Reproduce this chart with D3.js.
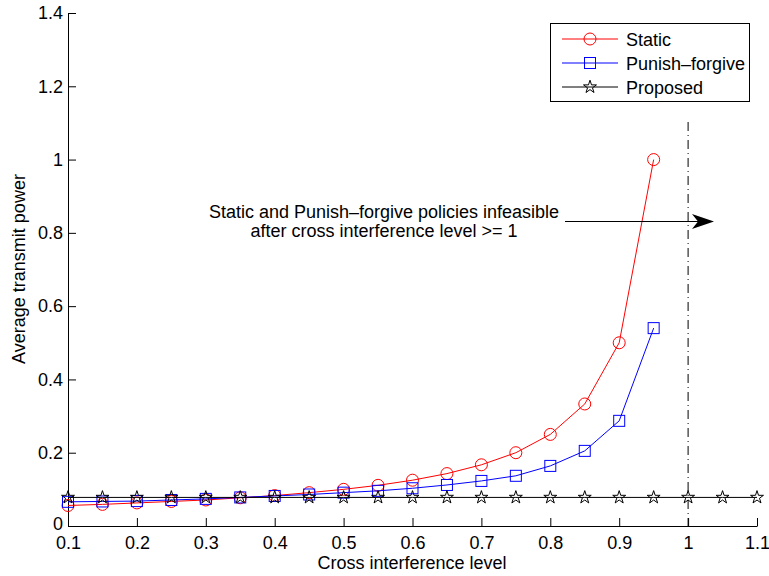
<!DOCTYPE html>
<html>
<head>
<meta charset="utf-8">
<script src="https://cdn.jsdelivr.net/npm/d3@7.9.0/dist/d3.min.js"></script>
<style>
  body { margin: 0; background: #fff; }
  text { font-family: "Liberation Sans", Arial, Helvetica, sans-serif; }
</style>
</head>
<body>
<svg id="chart" width="769" height="576"></svg>
<script>
// values
const xLevels = [0.1, 0.15, 0.2, 0.25, 0.3, 0.35, 0.4, 0.45, 0.5, 0.55, 0.6, 0.65, 0.7, 0.75, 0.8, 0.85, 0.9, 0.95];
const staticPower = [0.056, 0.059, 0.063, 0.067, 0.071, 0.077, 0.083, 0.091, 0.100, 0.111, 0.125, 0.143, 0.167, 0.200, 0.250, 0.333, 0.500, 1.000];
const punishPower = [0.066, 0.067, 0.068, 0.071, 0.074, 0.078, 0.082, 0.086, 0.091, 0.096, 0.103, 0.112, 0.123, 0.137, 0.164, 0.205, 0.287, 0.540];
const proposedLevels = [0.1, 0.15, 0.2, 0.25, 0.3, 0.35, 0.4, 0.45, 0.5, 0.55, 0.6, 0.65, 0.7, 0.75, 0.8, 0.85, 0.9, 0.95, 1.0, 1.05, 1.1];
const proposedPower = [0.078, 0.078, 0.078, 0.078, 0.078, 0.078, 0.078, 0.078, 0.078, 0.078, 0.078, 0.078, 0.078, 0.078, 0.078, 0.078, 0.078, 0.078, 0.078, 0.078, 0.078];

const xTicks = [0.1, 0.2, 0.3, 0.4, 0.5, 0.6, 0.7, 0.8, 0.9, 1, 1.1];
const xTickLabels = ['0.1', '0.2', '0.3', '0.4', '0.5', '0.6', '0.7', '0.8', '0.9', '1', '1.1'];
const yTicks = [0, 0.2, 0.4, 0.6, 0.8, 1, 1.2, 1.4];
const yTickLabels = ['0', '0.2', '0.4', '0.6', '0.8', '1', '1.2', '1.4'];

const seriesNames = ['Static', 'Punish\u2013forgive', 'Proposed'];
const infeasibleAt = 1;
const noteLines = ['Static and Punish\u2013forgive policies infeasible', 'after cross interference level >= 1'];

const fontSize = 18;
const svg = d3.select('#chart');

const x = d3.scaleLinear().domain([0.1, 1.1]).range([68, 757]);
const y = d3.scaleLinear().domain([0, 1.4]).range([526, 13]);

// axes, ticks pointing inward like matlab
const xAxis = d3.axisBottom(x)
  .tickValues(xTicks)
  .tickFormat((d, i) => xTickLabels[i])
  .tickSizeInner(-8)
  .tickSizeOuter(0)
  .tickPadding(10);

const yAxis = d3.axisLeft(y)
  .tickValues(yTicks)
  .tickFormat((d, i) => yTickLabels[i])
  .tickSizeInner(-8)
  .tickSizeOuter(0)
  .tickPadding(5);

const gx = svg.append('g').attr('transform', `translate(0,${y(0)})`).call(xAxis);
const gy = svg.append('g').attr('transform', `translate(${x(0.1)},0)`).call(yAxis);
[gx, gy].forEach(g => {
  g.selectAll('text').attr('font-size', fontSize).attr('fill', '#000');
  g.selectAll('line, path').attr('stroke', '#000');
});
// lift the y "0" a touch so it clears the "0.1" below it
gy.selectAll('.tick text').filter(d => d === 0).attr('dy', '0.22em');

svg.append('text')
  .attr('x', 412)
  .attr('y', 569)
  .attr('text-anchor', 'middle')
  .attr('font-size', fontSize)
  .text('Cross interference level');

svg.append('text')
  .attr('transform', 'translate(25,269) rotate(-90)')
  .attr('text-anchor', 'middle')
  .attr('font-size', fontSize)
  .text('Average transmit power');

// infeasibility boundary
svg.append('line')
  .attr('x1', x(infeasibleAt)).attr('x2', x(infeasibleAt))
  .attr('y1', 122).attr('y2', y(0))
  .attr('stroke', '#000')
  .attr('stroke-width', 1)
  .attr('stroke-dasharray', '9,4,1,4');

const line = d3.line().x(d => x(d[0])).y(d => y(d[1]));

const staticData = xLevels.map((v, i) => [v, staticPower[i]]);
const punishData = xLevels.map((v, i) => [v, punishPower[i]]);
const proposedData = proposedLevels.map((v, i) => [v, proposedPower[i]]);

const starPath = d3.symbol().type(d3.symbolStar).size(52)();

function drawMarker(g, kind, color) {
  if (kind === 'circle') {
    g.append('circle').attr('r', 6).attr('fill', 'none').attr('stroke', color);
  } else if (kind === 'square') {
    g.append('rect').attr('x', -5.5).attr('y', -5.5).attr('width', 11).attr('height', 11)
      .attr('fill', 'none').attr('stroke', color);
  } else {
    g.append('path').attr('d', starPath).attr('fill', 'none').attr('stroke', color);
  }
}

const series = [
  { name: seriesNames[0], data: staticData, color: '#ff0000', marker: 'circle' },
  { name: seriesNames[1], data: punishData, color: '#0000ff', marker: 'square' },
  { name: seriesNames[2], data: proposedData, color: '#000000', marker: 'star' },
];

series.forEach(s => {
  svg.append('path')
    .datum(s.data)
    .attr('d', line)
    .attr('fill', 'none')
    .attr('stroke', s.color)
    .attr('stroke-width', 1);
  svg.append('g')
    .selectAll('g')
    .data(s.data)
    .join('g')
    .attr('transform', d => `translate(${x(d[0])},${y(d[1])})`)
    .each(function() { drawMarker(d3.select(this), s.marker, s.color); });
});

// annotation
const note = svg.append('text')
  .attr('text-anchor', 'middle')
  .attr('font-size', fontSize);
noteLines.forEach((t, i) => {
  note.append('tspan').attr('x', 384).attr('y', 218 + i * 19).text(t);
});

const arrowY = 221.5;
svg.append('line')
  .attr('x1', 565).attr('x2', 700)
  .attr('y1', arrowY).attr('y2', arrowY)
  .attr('stroke', '#000');
svg.append('path')
  .attr('d', `M714,${arrowY} L692,${arrowY - 7.5} L698,${arrowY} L692,${arrowY + 7.5} Z`)
  .attr('fill', '#000');

// legend
const legend = svg.append('g');
legend.append('rect')
  .attr('x', 550.5).attr('y', 23.5)
  .attr('width', 199).attr('height', 78)
  .attr('fill', '#fff')
  .attr('stroke', '#000');

series.forEach((s, i) => {
  const ly = 39 + i * 24;
  legend.append('line')
    .attr('x1', 562).attr('x2', 618)
    .attr('y1', ly).attr('y2', ly)
    .attr('stroke', s.color);
  drawMarker(legend.append('g').attr('transform', `translate(590,${ly})`), s.marker, s.color);
  legend.append('text')
    .attr('x', 626)
    .attr('y', ly + 6.5)
    .attr('font-size', fontSize)
    .text(s.name);
});
</script>
</body>
</html>
